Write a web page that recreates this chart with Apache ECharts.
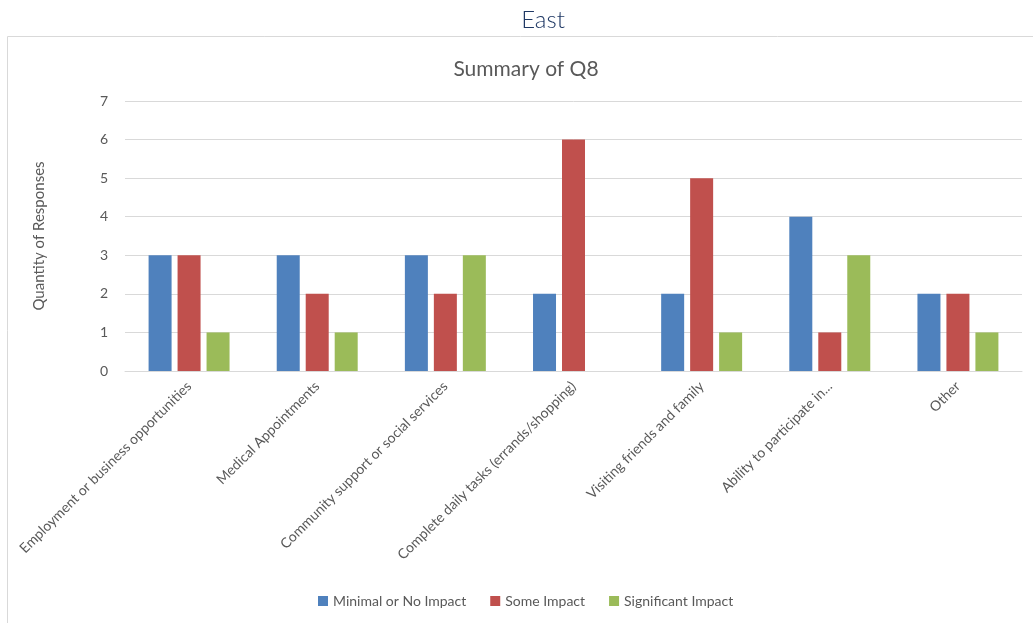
<!DOCTYPE html>
<html>
<head>
<meta charset="utf-8">
<script src="https://cdn.jsdelivr.net/npm/echarts@6/dist/echarts.min.js"></script>
<style>
  html, body { margin: 0; padding: 0; background: #fff; }
  #chart { width: 1033px; height: 623px; }
</style>
</head>
<body>
<div id="chart"></div>
<script>
// Survey answers for Q8, East region
const categories = [
  'Employment or business opportunities',
  'Medical Appointments',
  'Community support or social services',
  'Complete daily tasks (errands/shopping)',
  'Visiting friends and family',
  'Ability to participate in...',
  'Other'
];
const minimalImpact = [3, 3, 3, 2, 2, 4, 2];
const someImpact = [3, 2, 2, 6, 5, 1, 2];
const significantImpact = [1, 1, 3, 0, 1, 3, 1];
const seriesNames = ['Minimal or No Impact', 'Some Impact', 'Significant Impact'];
const seriesColors = ['#4F81BD', '#C0504D', '#9BBB59'];

const FONT = 'Lato, "Liberation Sans", sans-serif';
const chart = echarts.init(document.getElementById('chart'));

const values = [minimalImpact, someImpact, significantImpact];

chart.setOption({
  animation: false,
  textStyle: { fontFamily: FONT },
  title: [
    {
      text: 'East', left: 538, top: 3, textAlign: 'center',
      textStyle: { fontFamily: FONT, fontSize: 24, fontWeight: 300, color: '#1F3864' }
    },
    {
      text: 'Summary of Q8', left: 521, top: 54, textAlign: 'center',
      textStyle: { fontFamily: FONT, fontSize: 21, fontWeight: 'normal', color: '#595959' }
    }
  ],
  graphic: [{
    type: 'rect',
    shape: { x: 7.5, y: 36.5, width: 1040, height: 600 },
    style: { fill: 'none', stroke: '#D9D9D9', lineWidth: 1 },
    silent: true
  }],
  legend: {
    bottom: 10, left: 313,
    itemWidth: 10, itemHeight: 10, itemGap: 24,
    icon: 'rect',
    textStyle: { fontFamily: FONT, fontSize: 14, color: '#595959' },
    data: seriesNames
  },
  grid: { left: 125, right: 11, top: 101, bottom: 252 },
  xAxis: {
    type: 'category',
    data: categories,
    axisLine: { lineStyle: { color: '#D9D9D9', width: 1 } },
    axisTick: { show: false },
    axisLabel: {
      interval: 0, rotate: 45, margin: 13,
      fontFamily: FONT, fontSize: 14, color: '#595959'
    }
  },
  yAxis: {
    type: 'value', min: 0, max: 7, interval: 1,
    name: 'Quantity of Responses',
    nameLocation: 'middle', nameGap: 78, nameRotate: 90,
    nameTextStyle: { fontFamily: FONT, fontSize: 15, color: '#595959' },
    axisLine: { show: false },
    axisTick: { show: false },
    axisLabel: { margin: 17, fontFamily: FONT, fontSize: 14, color: '#595959' },
    splitLine: { lineStyle: { color: '#D9D9D9', width: 1 } }
  },
  series: seriesNames.map((name, i) => ({
    name,
    type: 'bar',
    data: values[i],
    barWidth: 23,
    barGap: '26%',
    itemStyle: { color: seriesColors[i] }
  }))
});
</script>
</body>
</html>
